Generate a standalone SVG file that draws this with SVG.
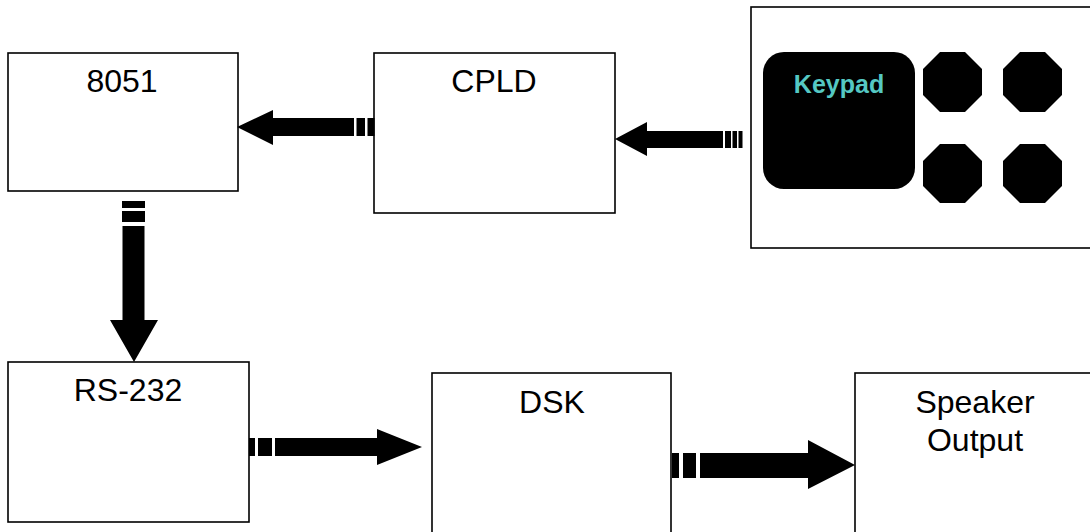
<svg xmlns="http://www.w3.org/2000/svg" width="1090" height="532" viewBox="0 0 1090 532">
  <style>
    .box { fill: #fff; stroke: #000; stroke-width: 1.6; }
    .label { font-family: "Liberation Sans", Arial, sans-serif; font-size: 32px; fill: #000; text-anchor: middle; }
    .keylabel { font-family: "Liberation Sans", Arial, sans-serif; font-size: 25px; font-weight: bold; fill: #55c8c3; text-anchor: middle; }
    .arrow { fill: #000; stroke: none; }
    .key { fill: #000; }
  </style>
  <rect width="1090" height="532" fill="#fff"/>

  <!-- blocks -->
  <g id="node-8051">
    <rect class="box" x="8" y="53" width="230" height="138"/>
    <text class="label" x="122" y="92">8051</text>
  </g>
  <g id="node-cpld">
    <rect class="box" x="374" y="53" width="241" height="160"/>
    <text class="label" x="494" y="92">CPLD</text>
  </g>
  <g id="node-keypad">
    <rect class="box" x="751" y="7" width="345" height="241"/>
    <rect class="key" x="763" y="52" width="152" height="137" rx="21" ry="21"/>
    <text class="keylabel" x="839" y="93">Keypad</text>
    <polygon class="key" points="940,52 965,52 982,69 982,95 965,112 940,112 923,95 923,69"/>
    <polygon class="key" points="1020,52 1045,52 1062,69 1062,95 1045,112 1020,112 1003,95 1003,69"/>
    <polygon class="key" points="940,144 965,144 982,161 982,186 965,203 940,203 923,186 923,161"/>
    <polygon class="key" points="1020,144 1045,144 1062,161 1062,186 1045,203 1020,203 1003,186 1003,161"/>
  </g>
  <g id="node-rs232">
    <rect class="box" x="8" y="362" width="241" height="160"/>
    <text class="label" x="128" y="401">RS-232</text>
  </g>
  <g id="node-dsk">
    <rect class="box" x="432" y="373" width="239" height="170"/>
    <text class="label" x="552" y="413">DSK</text>
  </g>
  <g id="node-speaker">
    <rect class="box" x="855" y="373" width="250" height="170"/>
    <text class="label" x="975" y="413">Speaker</text>
    <text class="label" x="975" y="451">Output</text>
  </g>

  <!-- striped block arrows -->
  <g id="connectors">
    <!-- CPLD to 8051 -->
    <g id="arrow-cpld-8051">
      <path class="arrow" d="M237,127 L273,110 L273,118 L354,118 L354,136 L273,136 L273,145 Z"/>
      <rect class="arrow" x="356.5" y="118" width="8.5" height="18"/>
      <rect class="arrow" x="367.5" y="118" width="7" height="18"/>
    </g>
    <!-- Keypad to CPLD -->
    <g id="arrow-keypad-cpld">
      <path class="arrow" d="M615,139 L647,122 L647,131 L723,131 L723,148 L647,148 L647,156 Z"/>
      <rect class="arrow" x="725" y="131" width="6" height="17"/>
      <rect class="arrow" x="732.5" y="131" width="4.5" height="17"/>
      <rect class="arrow" x="738.5" y="131" width="4" height="17"/>
    </g>
    <!-- 8051 to RS-232 -->
    <g id="arrow-8051-rs232">
      <rect class="arrow" x="122" y="201" width="23" height="7"/>
      <rect class="arrow" x="122" y="211" width="23" height="11"/>
      <path class="arrow" d="M122.5,226 L144.5,226 L144.5,320 L158,320 L134,362 L110,320 L122.5,320 Z"/>
    </g>
    <!-- RS-232 to DSK -->
    <g id="arrow-rs232-dsk">
      <rect class="arrow" x="249" y="438" width="6" height="18"/>
      <rect class="arrow" x="258" y="438" width="14" height="18"/>
      <path class="arrow" d="M275,438 L377,438 L377,429 L422,447 L377,465 L377,456 L275,456 Z"/>
    </g>
    <!-- DSK to Speaker Output -->
    <g id="arrow-dsk-speaker">
      <rect class="arrow" x="672" y="453" width="7" height="25"/>
      <rect class="arrow" x="683" y="453" width="13" height="25"/>
      <path class="arrow" d="M700,453 L808,453 L808,440 L855,465 L808,489 L808,478 L700,478 Z"/>
    </g>
  </g>
</svg>
